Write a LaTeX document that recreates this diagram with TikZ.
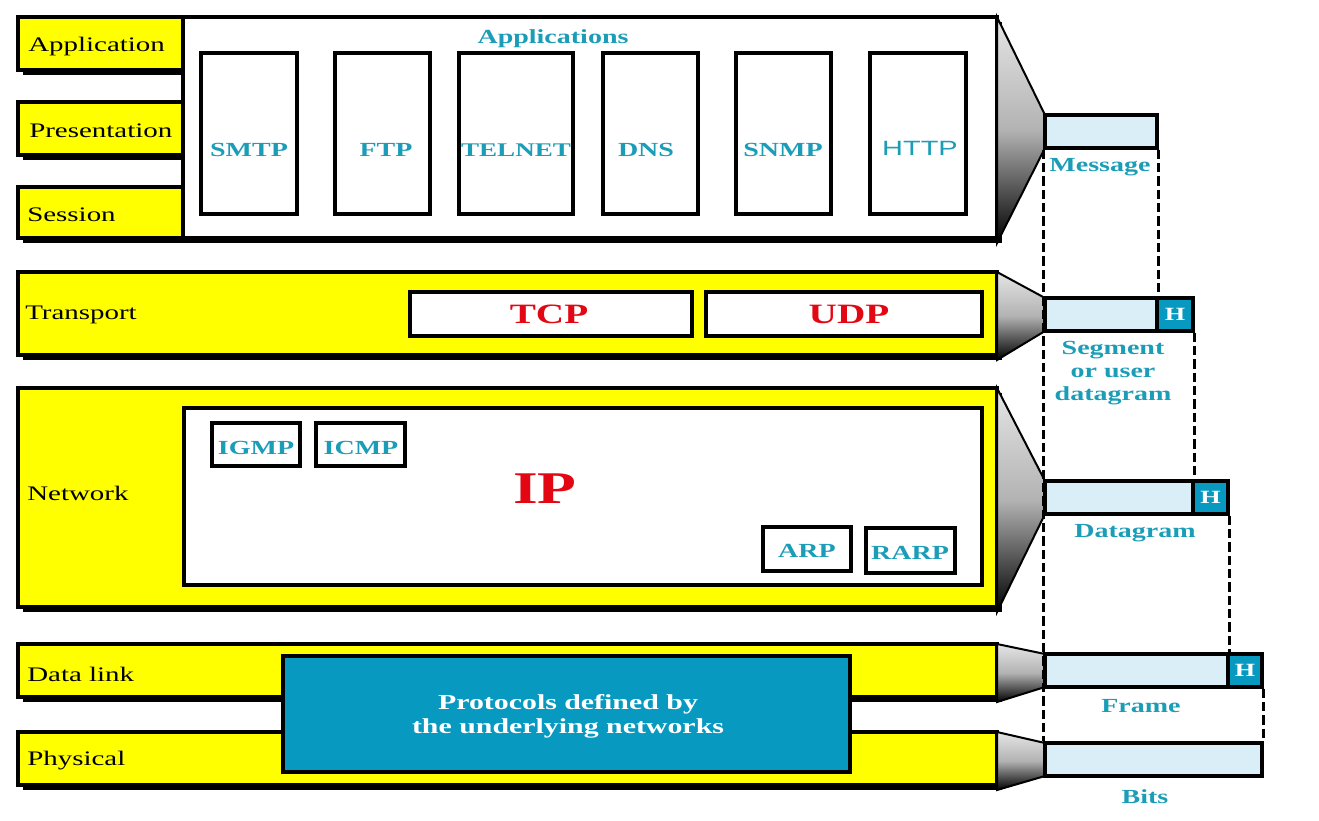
\documentclass[tikz,border=0pt]{standalone}
\usepackage{fontspec}
\setmainfont[FakeStretch=1.4]{Liberation Serif}
\newfontfamily\hsans[FakeStretch=1.4]{Liberation Sans}
\usetikzlibrary{fit}
\definecolor{ylw}{HTML}{FFFF00}
\definecolor{tealtxt}{HTML}{1B9DB8}
\definecolor{tealbox}{HTML}{0899C1}
\definecolor{lblue}{HTML}{D9EEF6}
\definecolor{redt}{HTML}{E30613}
\tikzset{
 base/.style={draw=black, line width=2.4pt, inner sep=0pt},
 ylwbox/.style={base, fill=ylw},
 whitebox/.style={base, fill=white},
 pktbox/.style={base, fill=lblue},
 hbox/.style={base, fill=tealbox},
 htxt/.style={text=white, font=\bfseries\fontsize{14}{15}\selectfont, inner sep=0pt},
 layertxt/.style={anchor=west, font=\fontsize{15.5}{17}\selectfont, inner sep=0pt},
 prototxt/.style={text=tealtxt, font=\bfseries\fontsize{15}{17}\selectfont, inner sep=0pt},
 redtxt/.style={text=redt, font=\bfseries\fontsize{21}{22}\selectfont, inner sep=0pt},
 dashline/.style={line width=2.4pt, dash pattern=on 7pt off 3pt},
 funnel/.style={draw=black, line width=1.5pt, top color=gray!20, bottom color=black, middle color=gray!60},
 shadowfill/.style={fill=black},
}
\begin{document}
\begin{tikzpicture}[x=0.75pt,y=-0.75pt]
\useasboundingbox (0,0) rectangle (1319,820);
% ---------- shadows ----------
\fill[shadowfill] (23,22) rectangle (188,75);
\fill[shadowfill] (23,107) rectangle (188,160);
\fill[shadowfill] (23,192) rectangle (188,243);
\fill[shadowfill] (188,22) rectangle (1002,243);
\fill[shadowfill] (23,277) rectangle (1002,360);
\fill[shadowfill] (23,393) rectangle (1002,612);
\fill[shadowfill] (23,649) rectangle (1002,702);
\fill[shadowfill] (23,737) rectangle (1002,790);
% ---------- application block ----------
\node[whitebox, fit={(183,17) (997,238)}] (appbig) {};
\node[ylwbox, fit={(18,17) (183,70)}] (applay) {};
\node[ylwbox, fit={(18,102) (183,155)}] (preslay) {};
\node[ylwbox, fit={(18,187) (183,238)}] (seslay) {};
\node[layertxt] at (28,47) {Application};
\node[layertxt] at (29,131) {Presentation};
\node[layertxt] at (27,215) {Session};
\node[prototxt] (apptitle) at (553,39) {Applications};
\node[whitebox, fit={(201,53) (297,214)}] (smtp) {};
\node[whitebox, fit={(335,53) (430,214)}] (ftp) {};
\node[whitebox, fit={(459,53) (573,214)}] (telnet) {};
\node[whitebox, fit={(603,53) (698,214)}] (dns) {};
\node[whitebox, fit={(736,53) (831,214)}] (snmp) {};
\node[whitebox, fit={(870,53) (966,214)}] (http) {};
\node[prototxt] at (249,150) {SMTP};
\node[prototxt] at (386,150) {FTP};
\node[prototxt, font=\bfseries\fontsize{14.5}{17}\selectfont] at (516,150) {TELNET};
\node[prototxt] at (646,150) {DNS};
\node[prototxt] at (783,150) {SNMP};
\node[prototxt, font=\hsans\fontsize{15.5}{17}\selectfont] at (920,148) {HTTP};
% ---------- transport ----------
\node[ylwbox, fit={(18,272) (997,355)}] (trans) {};
\node[layertxt] at (25,315) {Transport};
\node[whitebox, fit={(410,292) (692,336)}] (tcp) {};
\node[whitebox, fit={(706,292) (982,336)}] (udp) {};
\node[redtxt] at (549,314) {TCP};
\node[redtxt] at (849,314) {UDP};
% ---------- network ----------
\node[ylwbox, fit={(18,388) (997,607)}] (net) {};
\node[layertxt] at (27,493) {Network};
\node[whitebox, fit={(184,408) (982,585)}] (ip) {};
\node[whitebox, fit={(212,423) (300,466)}] (igmp) {};
\node[whitebox, fit={(316,423) (405,466)}] (icmp) {};
\node[whitebox, fit={(763,527) (851,571)}] (arp) {};
\node[whitebox, fit={(866,528) (955,573)}] (rarp) {};
\node[prototxt] at (256,448) {IGMP};
\node[prototxt] at (361,448) {ICMP};
\node[prototxt] at (807,551) {ARP};
\node[prototxt] at (910,553) {RARP};
\node[redtxt, font=\bfseries\fontsize{34}{36}\selectfont] at (545,489) {IP};
% ---------- data link / physical ----------
\node[ylwbox, fit={(18,644) (997,697)}] (dl) {};
\node[ylwbox, fit={(18,732) (997,785)}] (phy) {};
\node[layertxt] at (27,674) {Data link};
\node[layertxt] at (27,761) {Physical};
\node[base, fill=tealbox, fit={(283,656) (850,772)}] (under) {};
\node[text=white, font=\bfseries\fontsize{16}{18}\selectfont, align=center, inner sep=0pt] at (568,716) {Protocols defined by\\the underlying networks};
% ---------- funnels ----------
\draw[funnel] (997,17) -- (1045,115) -- (1045,148) -- (997,243) -- cycle;
\draw[funnel] (997,272) -- (1045,298) -- (1045,331) -- (997,360) -- cycle;
\draw[funnel] (997,388) -- (1045,481) -- (1045,514) -- (997,612) -- cycle;
\draw[funnel] (997,644) -- (1045,654) -- (1045,687) -- (997,702) -- cycle;
\draw[funnel] (997,732) -- (1045,743) -- (1045,776) -- (997,790) -- cycle;
% ---------- packets ----------
\node[pktbox, fit={(1045,115) (1157,148)}] (msg) {};
\node[pktbox, fit={(1045,298) (1157,331)}] (seg) {};
\node[hbox, fit={(1157,298) (1193,331)}] (segh) {};
\node[pktbox, fit={(1045,481) (1193,514)}] (dgm) {};
\node[hbox, fit={(1193,481) (1228,514)}] (dgmh) {};
\node[pktbox, fit={(1045,654) (1228,687)}] (frm) {};
\node[hbox, fit={(1228,654) (1262,687)}] (frmh) {};
\node[pktbox, fit={(1045,743) (1262,776)}] (bits) {};
\node[htxt] at (segh.center) {H};
\node[htxt] at (dgmh.center) {H};
\node[htxt] at (frmh.center) {H};
% ---------- dashed guides ----------
\draw[dashline] (msg.south west) -- (bits.north west);
\draw[dashline] (msg.south east) -- (seg.north east);
\draw[dashline] (segh.south east) -- (dgm.north east);
\draw[dashline] (dgmh.south east) -- (frm.north east);
\draw[dashline] (frmh.south east) -- (bits.north east);
% ---------- packet labels ----------
\node[prototxt] at (1100,167) {Message};
\node[prototxt, align=center] at (1113,373) {Segment\\or user\\datagram};
\node[prototxt] at (1135,533) {Datagram};
\node[prototxt] at (1141,706) {Frame};
\node[prototxt] at (1145,797) {Bits};
\end{tikzpicture}
\end{document}
